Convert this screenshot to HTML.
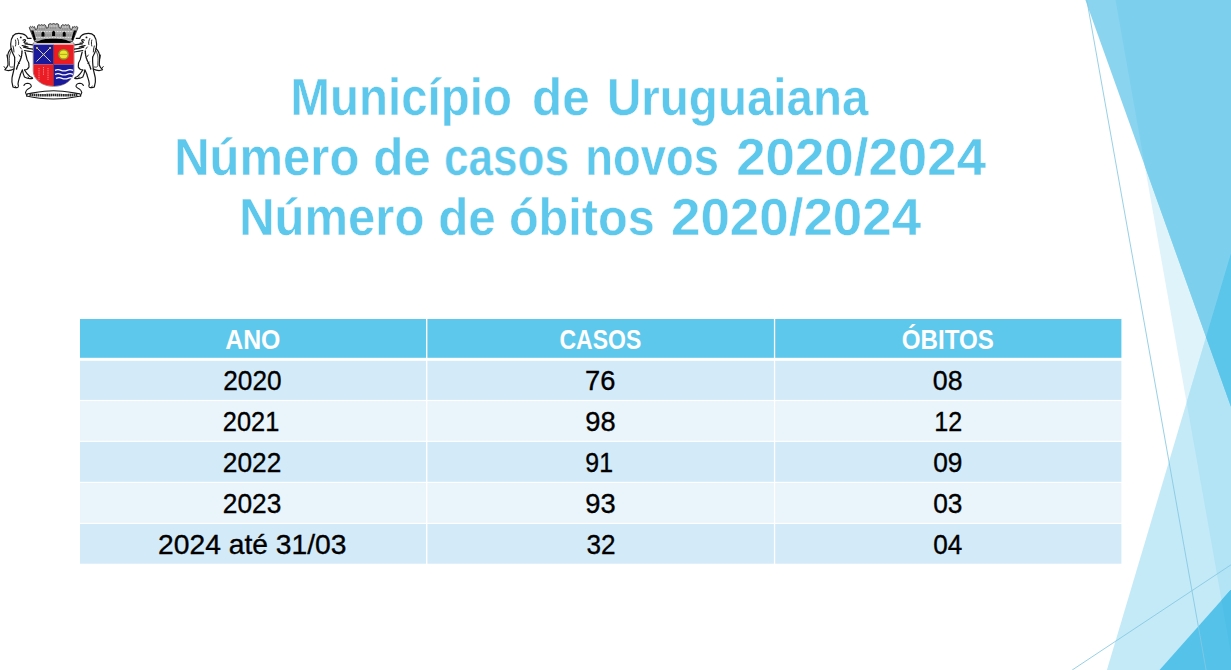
<!DOCTYPE html>
<html><head><meta charset="utf-8">
<style>
html,body{margin:0;padding:0;background:#fff;}
body{width:1231px;height:670px;overflow:hidden;position:relative;}
svg{position:absolute;left:0;top:0;display:block;}
text{font-family:"Liberation Sans",sans-serif;}
</style></head><body>
<svg width="1231" height="670" viewBox="0 0 1231 670">

<defs>
<clipPath id="cA"><polygon points="1085.4,0 1233,0 1233,412.3"/></clipPath>
<clipPath id="cB"><polygon points="1115.5,0 1233,0 1233,672 1234.2,672"/></clipPath>
<clipPath id="cD"><polygon points="1233,246.6 1233,672 1106.3,672"/></clipPath>
</defs>
<polygon points="1115.5,0 1233,0 1233,672 1234.2,672" fill="#DFF3FB"/>
<polygon points="1233,246.6 1233,672 1106.3,672" fill="#C4EAF8"/>
<g clip-path="url(#cB)"><polygon points="1233,246.6 1233,672 1106.3,672" fill="#B3E4F5"/></g>
<polygon points="1085.4,0 1233,0 1233,412.3" fill="#8AD4EF"/>
<g clip-path="url(#cB)"><polygon points="1085.4,0 1233,0 1233,412.3" fill="#7DD0ED"/></g>
<g clip-path="url(#cB)"><g clip-path="url(#cD)"><polygon points="1085.4,0 1233,0 1233,412.3" fill="#5BC5EA"/></g></g>
<polygon points="1233,587.2 1233,672 1157.8,672" fill="#55C2EA"/>
<g clip-path="url(#cB)"><polygon points="1233,587.2 1233,672 1157.8,672" fill="#50BFE8"/></g>
<line x1="1086.8" y1="0" x2="1206.1" y2="670" stroke="#84C8E2" stroke-width="0.85"/>
<line x1="1072.2" y1="670" x2="1231" y2="564.8" stroke="#84C8E2" stroke-width="0.85"/>

<rect x="80.0" y="319" width="1041.4" height="38.8" fill="#5EC8EC"/><rect x="80.0" y="360.8" width="1041.4" height="39.1" fill="#D3EAF8"/><rect x="80.0" y="401.1" width="1041.4" height="39.6" fill="#EAF4FB"/><rect x="80.0" y="441.9" width="1041.4" height="39.9" fill="#D3EAF8"/><rect x="80.0" y="483.0" width="1041.4" height="39.8" fill="#EAF4FB"/><rect x="80.0" y="524.0" width="1041.4" height="39.7" fill="#D3EAF8"/><rect x="426.0" y="318" width="1.4" height="247" fill="#FFFFFF"/><rect x="773.9" y="318" width="1.3" height="247" fill="#FFFFFF"/>
<text transform="translate(290.53,114.60) scale(0.9305,1)" font-size="51" fill="#5EC8EC" font-weight="bold" stroke="#fff" stroke-width="0.4">Município</text>
<text transform="translate(532.06,114.60) scale(0.9691,1)" font-size="51" fill="#5EC8EC" font-weight="bold" stroke="#fff" stroke-width="0.4">de</text>
<text transform="translate(606.97,114.60) scale(0.9322,1)" font-size="51" fill="#5EC8EC" font-weight="bold" stroke="#fff" stroke-width="0.4">Uruguaiana</text>
<text transform="translate(174.24,174.60) scale(0.9604,1)" font-size="51" fill="#5EC8EC" font-weight="bold" stroke="#fff" stroke-width="0.4">Número</text>
<text transform="translate(373.16,174.60) scale(0.9691,1)" font-size="51" fill="#5EC8EC" font-weight="bold" stroke="#fff" stroke-width="0.4">de</text>
<text transform="translate(444.02,174.60) scale(0.8642,1)" font-size="51" fill="#5EC8EC" font-weight="bold" stroke="#fff" stroke-width="0.4">casos</text>
<text transform="translate(585.16,174.60) scale(0.8908,1)" font-size="51" fill="#5EC8EC" font-weight="bold" stroke="#fff" stroke-width="0.4">novos</text>
<text transform="translate(736.15,174.60) scale(1.0367,1)" font-size="51" fill="#5EC8EC" font-weight="bold" stroke="#fff" stroke-width="0.4">2020/2024</text>
<text transform="translate(239.24,234.60) scale(0.9604,1)" font-size="51" fill="#5EC8EC" font-weight="bold" stroke="#fff" stroke-width="0.4">Número</text>
<text transform="translate(438.16,234.60) scale(0.9691,1)" font-size="51" fill="#5EC8EC" font-weight="bold" stroke="#fff" stroke-width="0.4">de</text>
<text transform="translate(508.88,234.60) scale(0.9537,1)" font-size="51" fill="#5EC8EC" font-weight="bold" stroke="#fff" stroke-width="0.4">óbitos</text>
<text transform="translate(670.95,234.60) scale(1.0379,1)" font-size="51" fill="#5EC8EC" font-weight="bold" stroke="#fff" stroke-width="0.4">2020/2024</text>
<text transform="translate(225.21,349.00) scale(0.8868,1)" font-size="28" fill="#FFFFFF" font-weight="bold">ANO</text>
<text transform="translate(559.38,349.00) scale(0.8228,1)" font-size="28" fill="#FFFFFF" font-weight="bold">CASOS</text>
<text transform="translate(901.85,349.00) scale(0.8620,1)" font-size="28" fill="#FFFFFF" font-weight="bold">ÓBITOS</text>
<text transform="translate(223.27,389.80) scale(0.9373,1)" font-size="28" fill="#000000" stroke="#000" stroke-width="0.35">2020</text>
<text transform="translate(585.12,389.80) scale(0.9757,1)" font-size="28" fill="#000000" stroke="#000" stroke-width="0.35">76</text>
<text transform="translate(932.86,389.80) scale(0.9576,1)" font-size="28" fill="#000000" stroke="#000" stroke-width="0.35">08</text>
<text transform="translate(222.81,431.00) scale(0.9074,1)" font-size="28" fill="#000000" stroke="#000" stroke-width="0.35">2021</text>
<text transform="translate(585.22,431.00) scale(0.9757,1)" font-size="28" fill="#000000" stroke="#000" stroke-width="0.35">98</text>
<text transform="translate(934.23,431.00) scale(0.8988,1)" font-size="28" fill="#000000" stroke="#000" stroke-width="0.35">12</text>
<text transform="translate(222.77,471.80) scale(0.9391,1)" font-size="28" fill="#000000" stroke="#000" stroke-width="0.35">2022</text>
<text transform="translate(585.33,471.80) scale(0.8886,1)" font-size="28" fill="#000000" stroke="#000" stroke-width="0.35">91</text>
<text transform="translate(933.18,471.80) scale(0.9405,1)" font-size="28" fill="#000000" stroke="#000" stroke-width="0.35">09</text>
<text transform="translate(222.77,512.60) scale(0.9391,1)" font-size="28" fill="#000000" stroke="#000" stroke-width="0.35">2023</text>
<text transform="translate(585.22,512.60) scale(0.9757,1)" font-size="28" fill="#000000" stroke="#000" stroke-width="0.35">93</text>
<text transform="translate(933.18,512.60) scale(0.9405,1)" font-size="28" fill="#000000" stroke="#000" stroke-width="0.35">03</text>
<text transform="translate(158.08,553.90) scale(1.0082,1)" font-size="28" fill="#000000" stroke="#000" stroke-width="0.35">2024 até 31/03</text>
<text transform="translate(586.48,553.90) scale(0.9336,1)" font-size="28" fill="#000000" stroke="#000" stroke-width="0.35">32</text>
<text transform="translate(933.18,553.90) scale(0.9333,1)" font-size="28" fill="#000000" stroke="#000" stroke-width="0.35">04</text>
<g id="logo">
<g id="lionL" fill="none" stroke="#151515" stroke-linejoin="round" stroke-linecap="round" stroke-width="1.2">
<path d="M13.2,35.6 C15,33.5 19,33 22.5,33.8 C25,34.5 27,36 27.5,38.3 L31.1,38.3"/>
<path d="M23,40.2 C24.5,39.2 26.3,39.8 25.3,41 C24.3,42 23,42.5 25,43 L27.2,43.2" stroke-width="1.2"/>
<path d="M25,43.8 C27,44.2 30,44.5 32.5,44.8"/>
<path d="M22.2,45.5 C24,46 26,46.5 28,47"/>
<path d="M23.5,47 C26,48 29,48.8 33,49.2"/>
<path d="M24.5,50.5 C27,51 30,51.5 33,52"/>
<path d="M13.2,35.6 C11.5,38 10.8,41 10.7,44 C10.5,47.5 11.2,50 12.3,52.2 C13,54 14,55.5 14.6,57.1"/>
<path d="M15.5,40 C16,42 16,44 15.5,46 M17.5,38.5 C18.5,40.5 19,42.5 18.5,44.5 M20,47 L21.5,49 M13,46 C13.5,48 14,50 14,52 M19,55 L20.5,57 M18,62 L19.5,63.5 M24,47.5 L25,46" stroke-width="0.9"/>
<circle cx="20.8" cy="37.4" r="0.95" fill="#151515" stroke="none"/>
<path d="M22,51 C22,55 21,59 19,62.5 C18,65 17,67 16.5,69" stroke-width="1.4" stroke-dasharray="0.9 0.9"/>
<path d="M25.1,52 C26,55 26.5,57 27,59.5 C28.5,61.5 29.5,64 29,67 C28,69 26,70 24.5,70"/>
<path d="M24.5,70 C26,72.5 28,75 29.8,76.5 C31.5,77 32.6,77.5 32.6,78.3 C30,79 27,78.5 24.5,77 C23.5,75 22.8,72.5 22.4,70"/>
<path d="M22.4,70 C21.5,72 20.5,73.5 20.3,75 C19.5,78 18,81 18,84 C18.5,85.5 19,86.5 18,87.2 C16.5,87.8 14.5,87.8 13,87 C12,84 11.5,81 12,78 C12.5,75 13.5,72 14,69 C14.5,65 15,61 14.6,57.1"/>
<path d="M14,69 C11,70.5 7.5,71 4.8,69.8 C6,68.5 7.5,67 8,65 C8.2,62.5 7.5,60 7.6,56 C8,53 9.5,50 11.5,48.5"/>
<path d="M13,67 C11,67.5 9.5,67 9.5,65.5 C9.5,62 9,59 9.5,56 C10,53.5 11,51 12,50" stroke-width="0.8"/>
<path d="M6.8,55 L7.5,58.5 M5.5,68.5 L4,66.5 M28,77 L29,78.5 M15,86 L16,87.5" stroke-width="0.9"/>
</g>
<use href="#lionL" transform="translate(107.3,0) scale(-1,1)"/>
<!-- ribbon -->
<g stroke="#151515" stroke-linejoin="round" stroke-linecap="round" stroke-width="1.05">
<path d="M23.9,85.5 C24.5,83.8 26,83.2 27.5,83.2 C29.5,83.3 31.5,84.5 31.3,86.6 C30.5,88 29,88.5 28.3,88.8 C27,89.5 26,90.5 25.5,92.5 L27,96" fill="none"/>
<path d="M83.4,85.5 C82.8,83.8 81.3,83.2 79.8,83.2 C77.8,83.3 75.8,84.5 76,86.6 C76.8,88 78.3,88.5 79,88.8 C80.3,89.5 81.3,90.5 81.8,92.5 L80.3,96" fill="none"/>
<path d="M27.5,93.8 C36,92.5 45,90.8 53.6,90.8 C62.2,90.8 71.2,92.5 79.8,93.8 L80.8,96 C72,98 62,98.9 53.6,98.9 C45.2,98.9 35.2,98 26.5,96 Z" fill="#fff"/>
<path d="M29.5,94.6 C37,95.5 46,95.2 53.6,95 C61.2,95.2 70.2,95.5 77.8,94.6" fill="none" stroke="#2a2a2a" stroke-width="2.6" stroke-dasharray="1.6 0.5" stroke-linecap="butt"/>
</g>
<!-- crown -->
<path d="M29.2,27.6 L30.5,26.4 L31.5,27.2 L32.5,26.4 L33.5,27.2 L34.5,26.6 L35.5,29.5 L37.2,28.8 L37.6,25.6 L39,24.6 L40.2,25.4 L41.6,24.6 L43,25.4 L44.4,24.6 L45.8,25.6 L46.4,28.2 L48.2,27.6 L48.6,24.4 L50.2,23.6 L51.8,24.2 L53.6,23.5 L55.4,24.2 L57,23.6 L58.6,24.4 L59,27.6 L60.8,28.2 L61.4,25.6 L62.8,24.6 L64.2,25.4 L65.6,24.6 L67,25.4 L68.2,24.6 L69.6,25.6 L70,28.8 L71.7,29.5 L72.7,26.6 L73.7,27.2 L74.7,26.4 L75.7,27.2 L76.7,26.4 L78,27.6 L72.5,41.5 L34.7,41.5 Z" fill="#a6a6a6" stroke="#222" stroke-width="0.8"/>
<path d="M38.5,27 L45,27 M49.5,26 L57.5,26 M62,27 L68.5,27 M31,29 L34,29 M73,29 L76,29 M33,31.5 L74,31.5 M34.5,37.5 L72.5,37.5" stroke="#ececec" stroke-width="1" stroke-dasharray="0.8 0.8"/>
<path d="M39,29 L45,29 M50,28 L57,28 M62,29 L68,29 M36,35 L71,35" stroke="#4a4a4a" stroke-width="0.7" stroke-dasharray="0.7 1.1"/>
<path d="M41.5,36.5 L41.5,33 Q43,30.3 44.5,33 L44.5,36.5 Z M52.1,36 L52.1,32.2 Q53.6,29.5 55.1,32.2 L55.1,36 Z M62.7,36.5 L62.7,33 Q64.2,30.3 65.7,33 L65.7,36.5 Z M31,30.5 L33.5,30.5 L36,39.5 L34.3,40.5 Z M76.3,30.5 L73.8,30.5 L71.3,39.5 L73,40.5 Z" fill="#000"/>
<path d="M35.5,43.3 C39.5,39.2 46,38.7 53.6,38.7 C61.2,38.7 67.7,39.2 71.7,43.3 Z" fill="#000"/>
<!-- shield -->
<path d="M33.2,43 L74,43 L74,71 A20.4,15.4 0 0 1 53.6,86.4 A20.4,15.4 0 0 1 33.2,71 Z" fill="#fff" stroke="#3a2020" stroke-width="0.5"/>
<rect x="33.5" y="44.6" width="20.1" height="19.9" fill="#1a1a9a"/>
<rect x="53.6" y="44.6" width="20.1" height="19.9" fill="#ec1c24"/>
<path d="M33.5,64.5 L53.6,64.5 L53.6,86.1 A20.1,15.1 0 0 1 33.5,71 Z" fill="#ec1c24"/>
<path d="M53.6,64.5 L73.7,64.5 L73.7,71 A20.1,15.1 0 0 1 53.6,86.1 Z" fill="#1a1a9a"/>
<path d="M36.5,47.5 L50.5,61.5 M50.5,47.5 L36.5,61.5" stroke="#e8e8c8" stroke-width="0.9"/>
<circle cx="37" cy="48" r="1.1" fill="#e0d030"/><circle cx="50" cy="48" r="1.1" fill="#e0d030"/><circle cx="43.5" cy="54.5" r="0.8" fill="#e0d030"/>
<circle cx="63.6" cy="54.4" r="5.4" fill="#8c9c20"/>
<circle cx="63.6" cy="54.4" r="3.9" fill="#eee530"/>
<path d="M60,54.4 L67.2,54.4" stroke="#9aa020" stroke-width="0.8"/>
<path d="M39,68 L39,80 M43.5,67 L43.5,75 M48,68 L48,80" stroke="#f5c0c0" stroke-width="0.7" stroke-dasharray="1 0.8"/>
<path d="M55,70.3 Q58,69 61,70.3 T67,70.3 T73,70.3 M55,74.3 Q58,73 61,74.3 T67,74.3 T73,74.3 M56,78.3 Q59,77 62,78.3 T68,78.3 T72,78.3" fill="none" stroke="#fff" stroke-width="1.3"/>
<path d="M53.6,44.6 L53.6,86" stroke="#500" stroke-width="0.4"/>
</g>

</svg>
</body></html>
